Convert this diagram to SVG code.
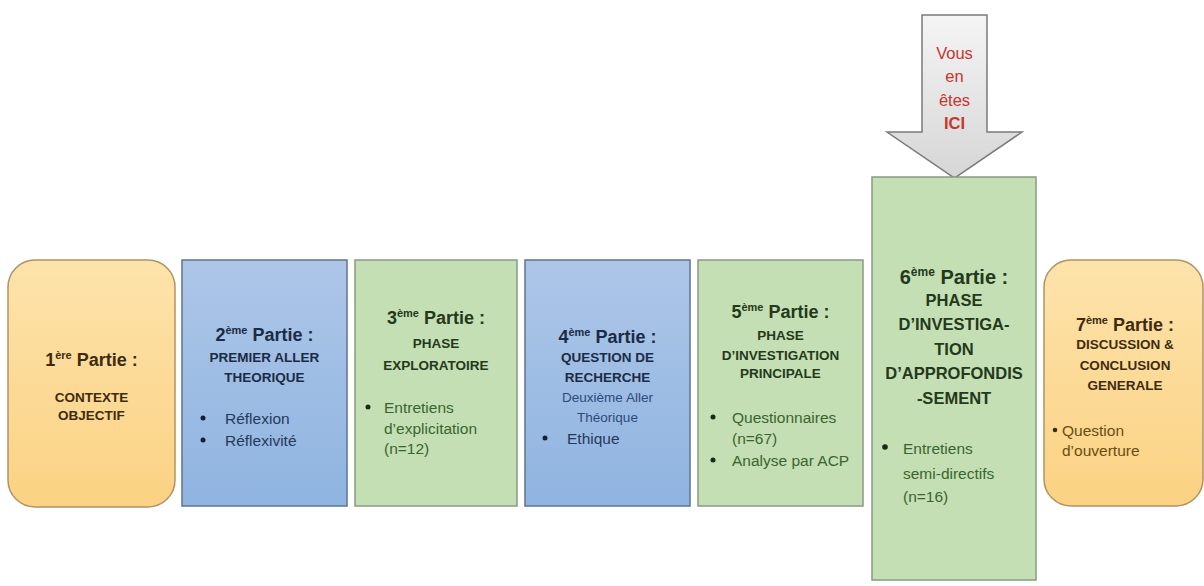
<svg xmlns="http://www.w3.org/2000/svg" width="1204" height="586" viewBox="0 0 1204 586">
  <defs>
    <linearGradient id="gOrange" x1="0" y1="0" x2="0" y2="1">
      <stop offset="0" stop-color="#fde3ab"/>
      <stop offset="1" stop-color="#fbd283"/>
    </linearGradient>
    <linearGradient id="gBlue" x1="0" y1="0" x2="0" y2="1">
      <stop offset="0" stop-color="#adc6e8"/>
      <stop offset="1" stop-color="#8fb4e0"/>
    </linearGradient>
    <linearGradient id="gGray" x1="0" y1="0" x2="0" y2="1">
      <stop offset="0" stop-color="#f4f4f4"/>
      <stop offset="1" stop-color="#d6d6d6"/>
    </linearGradient>
    <style>
      text { font-family: "Liberation Sans", Arial, sans-serif; text-anchor: middle; }
      .orange { fill: url(#gOrange); stroke: #b39262; stroke-width: 1.5; }
      .blue { fill: url(#gBlue); stroke: #5f7391; stroke-width: 1.5; }
      .green { fill: #c4dfb3; stroke: #8b9a83; stroke-width: 1.5; }
      .hdr { font-weight: bold; font-size: 18px; }
      .cap { font-weight: bold; font-size: 13.5px; }
      .bul { font-size: 15.5px; text-anchor: start; }
      .tO { fill: #3d2b10; }
      .tB { fill: #1b2b45; }
      .tG { fill: #24391b; }
      .bB { fill: #27395a; }
      .bG { fill: #3b6530; }
      .bO { fill: #6b4c12; }
      .red { fill: #c8352f; font-size: 16.5px; }
    </style>
  </defs>

  <g id="arrow">
    <polygon points="922,15 987,15 987,132 1022,132 954.5,178 887,132 922,132" fill="url(#gGray)" stroke="#7a7a7a" stroke-width="1.5"/>
    <text class="red" x="954.5" y="59">Vous</text>
    <text class="red" x="954.5" y="82">en</text>
    <text class="red" x="954.5" y="106">êtes</text>
    <text class="red" x="954.5" y="129" font-weight="bold">ICI</text>
  </g>

  <g id="connectors"></g>

  <g id="part1">
    <rect class="orange" x="8" y="260" width="167" height="247" rx="27" ry="27"/>
    <text class="hdr tO" x="91.5" y="366">1<tspan font-size="11" dy="-7">ère</tspan><tspan dy="7"> Partie :</tspan></text>
    <text class="cap tO" x="91.5" y="402">CONTEXTE</text>
    <text class="cap tO" x="91.5" y="420">OBJECTIF</text>
  </g>

  <g id="part2">
    <rect class="blue" x="182" y="260" width="165" height="246"/>
    <text class="hdr tB" x="264.5" y="341">2<tspan font-size="11" dy="-7">ème</tspan><tspan dy="7"> Partie :</tspan></text>
    <text class="cap tB" x="264.5" y="362">PREMIER ALLER</text>
    <text class="cap tB" x="264.5" y="382">THEORIQUE</text>
    <circle cx="203" cy="418" r="2.5" fill="#10203a"/>
    <text class="bul bB" x="225" y="423.5">Réflexion</text>
    <circle cx="203" cy="440" r="2.5" fill="#10203a"/>
    <text class="bul bB" x="225" y="445.5">Réflexivité</text>
  </g>

  <g id="part3">
    <rect class="green" x="355" y="260" width="162" height="246"/>
    <text class="hdr tG" x="436" y="324">3<tspan font-size="11" dy="-7">ème</tspan><tspan dy="7"> Partie :</tspan></text>
    <text class="cap tG" x="436" y="348" font-size="13">PHASE</text>
    <text class="cap tG" x="436" y="370" font-size="13">EXPLORATOIRE</text>
    <circle cx="368" cy="407" r="2.5" fill="#1c2a14"/>
    <text class="bul bG" x="384" y="413" font-size="16.5">Entretiens</text>
    <text class="bul bG" x="384" y="434" font-size="16.5">d’explicitation</text>
    <text class="bul bG" x="384" y="454" font-size="16.5">(n=12)</text>
  </g>

  <g id="part4">
    <rect class="blue" x="525" y="260" width="165" height="246"/>
    <text class="hdr tB" x="607.5" y="343">4<tspan font-size="11" dy="-7">ème</tspan><tspan dy="7"> Partie :</tspan></text>
    <text class="cap tB" x="607.5" y="362">QUESTION DE</text>
    <text class="cap tB" x="607.5" y="382">RECHERCHE</text>
    <text x="607.5" y="402" font-size="13.5" fill="#2d4a7a">Deuxième Aller</text>
    <text x="607.5" y="422" font-size="13.5" fill="#2d4a7a">Théorique</text>
    <circle cx="545" cy="438" r="2.5" fill="#10203a"/>
    <text class="bul bB" x="567" y="444" font-size="16">Ethique</text>
  </g>

  <g id="part5">
    <rect class="green" x="698" y="260" width="165" height="246"/>
    <text class="hdr tG" x="780.5" y="318">5<tspan font-size="11" dy="-7">ème</tspan><tspan dy="7"> Partie :</tspan></text>
    <text class="cap tG" x="780.5" y="340">PHASE</text>
    <text class="cap tG" x="780.5" y="360">D’INVESTIGATION</text>
    <text class="cap tG" x="780.5" y="378">PRINCIPALE</text>
    <circle cx="713" cy="417" r="2.5" fill="#1c2a14"/>
    <text class="bul bG" x="732" y="423">Questionnaires</text>
    <text class="bul bG" x="732" y="444">(n=67)</text>
    <circle cx="713" cy="460" r="2.5" fill="#1c2a14"/>
    <text class="bul bG" x="732" y="466">Analyse par ACP</text>
  </g>

  <g id="part6">
    <rect class="green" x="872" y="177" width="164" height="403"/>
    <text class="tG" x="954" y="284" font-weight="bold" font-size="20">6<tspan font-size="12" dy="-8">ème</tspan><tspan dy="8"> Partie :</tspan></text>
    <text class="tG" x="954" y="306" font-weight="bold" font-size="16.5">PHASE</text>
    <text class="tG" x="954" y="330" font-weight="bold" font-size="16.5">D’INVESTIGA-</text>
    <text class="tG" x="954" y="355" font-weight="bold" font-size="16.5">TION</text>
    <text class="tG" x="954" y="379" font-weight="bold" font-size="16.5">D’APPROFONDIS</text>
    <text class="tG" x="954" y="404" font-weight="bold" font-size="16.5">-SEMENT</text>
    <circle cx="885" cy="447" r="2.8" fill="#1c2a14"/>
    <text class="bul bG" x="903" y="453.5" font-size="18">Entretiens</text>
    <text class="bul bG" x="903" y="478.5" font-size="18">semi-directifs</text>
    <text class="bul bG" x="903" y="501.5" font-size="18">(n=16)</text>
  </g>

  <g id="part7">
    <rect class="orange" x="1044" y="260" width="159" height="246" rx="27" ry="27"/>
    <text class="hdr tO" x="1125" y="331">7<tspan font-size="11" dy="-7">ème</tspan><tspan dy="7"> Partie :</tspan></text>
    <text class="cap tO" x="1125" y="349">DISCUSSION &amp;</text>
    <text class="cap tO" x="1125" y="370">CONCLUSION</text>
    <text class="cap tO" x="1125" y="390">GENERALE</text>
    <circle cx="1055" cy="430" r="2.3" fill="#3d2b10"/>
    <text class="bul bO" x="1062" y="436" font-size="16">Question</text>
    <text class="bul bO" x="1062" y="456" font-size="16">d’ouverture</text>
  </g>
</svg>
